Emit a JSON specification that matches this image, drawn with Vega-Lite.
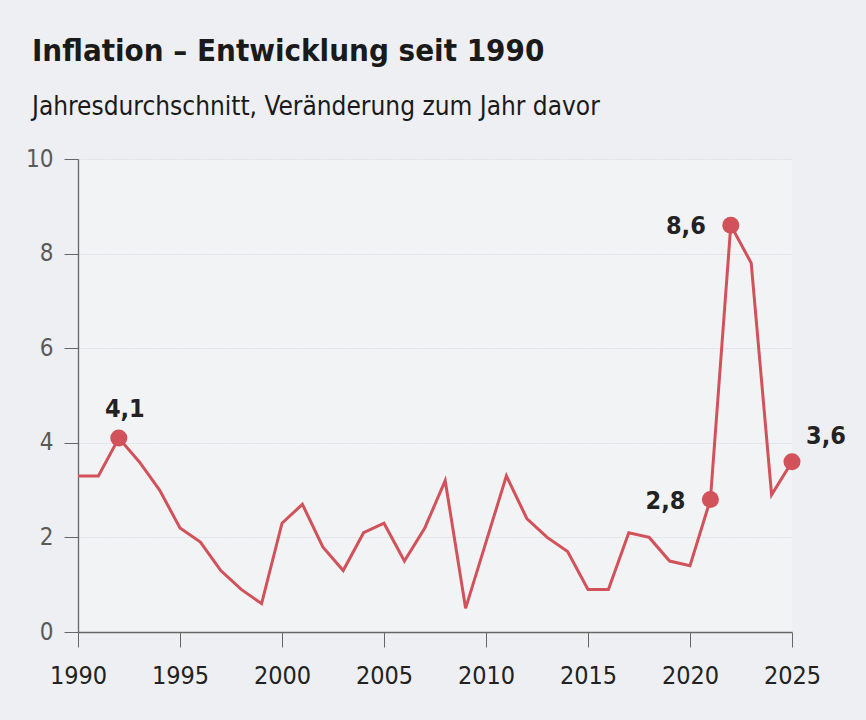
{
  "$schema": "https://vega.github.io/schema/vega-lite/v6.json",
  "width": 714,
  "height": 473,
  "autosize": {"type": "none"},
  "padding": {"left": 78, "top": 159, "right": 74, "bottom": 88},
  "background": "#eeeff2",
  "config": {
    "view": {"fill": "#f2f3f5", "stroke": null},
    "font": "DejaVu Sans Condensed"
  },
  "title": {
    "text": "Inflation – Entwicklung seit 1990",
    "subtitle": "Jahresdurchschnitt, Veränderung zum Jahr davor",
    "anchor": "start",
    "frame": "group",
    "dx": -46,
    "offset": 26,
    "font": "DejaVu Sans Condensed",
    "fontSize": 31,
    "fontWeight": "bold",
    "color": "#1a1a1a",
    "subtitleFont": "DejaVu Sans Condensed",
    "subtitleFontSize": 26,
    "subtitleColor": "#1a1a1a",
    "subtitlePadding": 26
  },
  "data": {
    "values": [
      {"year": 1990, "value": 3.3},
      {"year": 1991, "value": 3.3},
      {"year": 1992, "value": 4.1, "label": "4,1", "pos": "top"},
      {"year": 1993, "value": 3.6},
      {"year": 1994, "value": 3.0},
      {"year": 1995, "value": 2.2},
      {"year": 1996, "value": 1.9},
      {"year": 1997, "value": 1.3},
      {"year": 1998, "value": 0.9},
      {"year": 1999, "value": 0.6},
      {"year": 2000, "value": 2.3},
      {"year": 2001, "value": 2.7},
      {"year": 2002, "value": 1.8},
      {"year": 2003, "value": 1.3},
      {"year": 2004, "value": 2.1},
      {"year": 2005, "value": 2.3},
      {"year": 2006, "value": 1.5},
      {"year": 2007, "value": 2.2},
      {"year": 2008, "value": 3.2},
      {"year": 2009, "value": 0.5},
      {"year": 2010, "value": 1.9},
      {"year": 2011, "value": 3.3},
      {"year": 2012, "value": 2.4},
      {"year": 2013, "value": 2.0},
      {"year": 2014, "value": 1.7},
      {"year": 2015, "value": 0.9},
      {"year": 2016, "value": 0.9},
      {"year": 2017, "value": 2.1},
      {"year": 2018, "value": 2.0},
      {"year": 2019, "value": 1.5},
      {"year": 2020, "value": 1.4},
      {"year": 2021, "value": 2.8, "label": "2,8", "pos": "left"},
      {"year": 2022, "value": 8.6, "label": "8,6", "pos": "left"},
      {"year": 2023, "value": 7.8},
      {"year": 2024, "value": 2.9},
      {"year": 2025, "value": 3.6, "label": "3,6", "pos": "right"}
    ]
  },
  "encoding": {
    "x": {
      "field": "year",
      "type": "quantitative",
      "scale": {"domain": [1990, 2025], "nice": false, "zero": false},
      "axis": {
        "title": null,
        "values": [1990, 1995, 2000, 2005, 2010, 2015, 2020, 2025],
        "format": "d",
        "grid": false,
        "labelFlush": false,
        "labelOverlap": false,
        "domainColor": "#666666",
        "domainWidth": 1.3,
        "tickColor": "#666666",
        "tickSize": 15,
        "tickWidth": 1,
        "labelFontSize": 25,
        "labelColor": "#222222",
        "labelPadding": 16,
        "labelFont": "DejaVu Sans Condensed"
      }
    },
    "y": {
      "field": "value",
      "type": "quantitative",
      "scale": {"domain": [0, 10], "nice": false},
      "axis": {
        "title": null,
        "values": [0, 2, 4, 6, 8, 10],
        "grid": true,
        "labelFlush": false,
        "gridColor": "#dedfe2",
        "gridDash": [2, 1],
        "gridWidth": 1,
        "domainColor": "#666666",
        "domainWidth": 1.3,
        "tickColor": "#666666",
        "tickSize": 14,
        "labelFontSize": 24,
        "labelColor": "#5a5a5a",
        "labelPadding": 11,
        "labelFont": "DejaVu Sans Condensed"
      }
    }
  },
  "layer": [
    {
      "mark": {"type": "line", "color": "#d1525a", "strokeWidth": 3}
    },
    {
      "transform": [{"filter": "datum.label != null"}],
      "mark": {"type": "circle", "color": "#d1525a", "opacity": 1, "size": 290}
    },
    {
      "transform": [{"filter": "datum.pos == 'top'"}],
      "mark": {"type": "text", "fontSize": 25, "fontWeight": "bold", "color": "#222222", "align": "center", "dx": 6, "dy": -29, "font": "DejaVu Sans Condensed"},
      "encoding": {"text": {"field": "label"}}
    },
    {
      "transform": [{"filter": "datum.pos == 'left'"}],
      "mark": {"type": "text", "fontSize": 25, "fontWeight": "bold", "color": "#222222", "align": "right", "dx": -25, "dy": 1, "font": "DejaVu Sans Condensed"},
      "encoding": {"text": {"field": "label"}}
    },
    {
      "transform": [{"filter": "datum.pos == 'right'"}],
      "mark": {"type": "text", "fontSize": 25, "fontWeight": "bold", "color": "#222222", "align": "left", "dx": 14, "dy": -26, "font": "DejaVu Sans Condensed"},
      "encoding": {"text": {"field": "label"}}
    }
  ]
}
